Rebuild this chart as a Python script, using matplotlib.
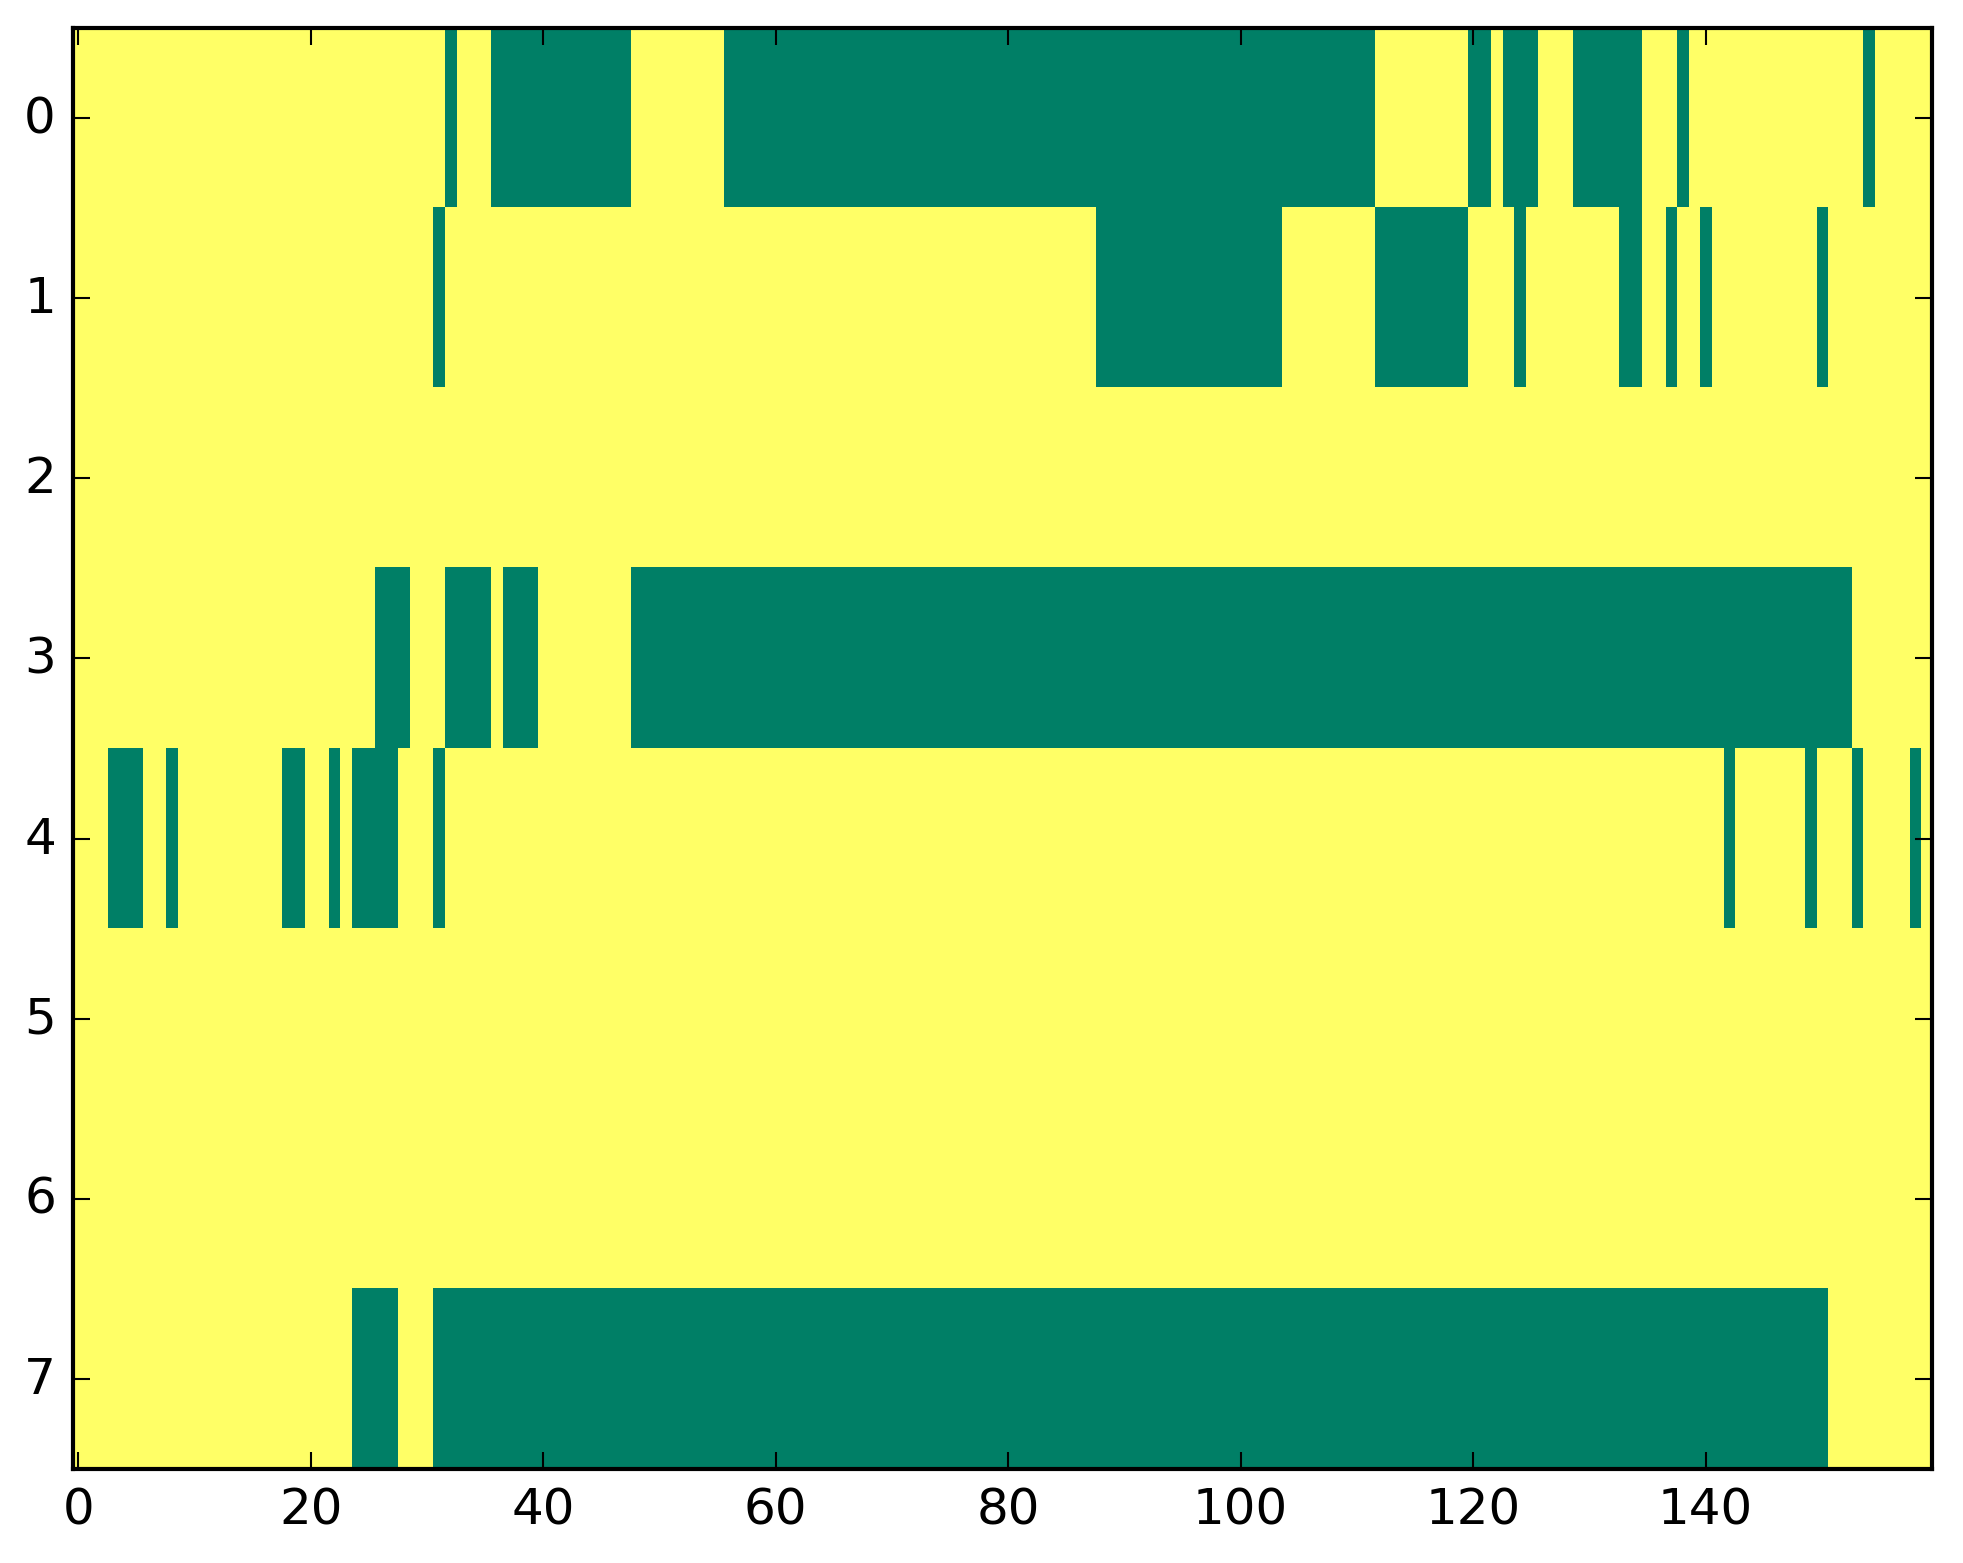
import numpy as np
import matplotlib
matplotlib.use('Agg')
import matplotlib.pyplot as plt

# размер матрицы: 8 строк, 160 столбцов
n_rows = 8
n_cols = 160

# участки со значением 0 (зелёные), (начало, конец) включительно
row0_zero = [(32, 32), (36, 47), (56, 111), (120, 121), (123, 125), (129, 134), (138, 138), (154, 154)]
row1_zero = [(31, 31), (88, 103), (112, 119), (124, 124), (133, 134), (137, 137), (140, 140), (150, 150)]
row2_zero = []
row3_zero = [(26, 28), (32, 35), (37, 39), (48, 152)]
row4_zero = [(3, 5), (8, 8), (18, 19), (22, 22), (24, 27), (31, 31), (142, 142), (149, 149), (153, 153), (158, 158)]
row5_zero = []
row6_zero = []
row7_zero = [(24, 27), (31, 150)]

rows_zero = [row0_zero, row1_zero, row2_zero, row3_zero,
             row4_zero, row5_zero, row6_zero, row7_zero]

# собираем матрицу: по умолчанию 1 (жёлтый)
data = np.ones((n_rows, n_cols))
for i, runs in enumerate(rows_zero):
    for a, b in runs:
        data[i, a:b + 1] = 0

plt.style.use('classic')
fig = plt.figure(figsize=(1963 / 300, 1564 / 300), dpi=300)
ax = fig.add_axes([0.037, 0.060, 0.9473, 0.9215])

ax.imshow(data, cmap='summer', aspect='auto', interpolation='nearest')
ax.set_yticks(range(n_rows))

fig.savefig('out.png', dpi=300)
